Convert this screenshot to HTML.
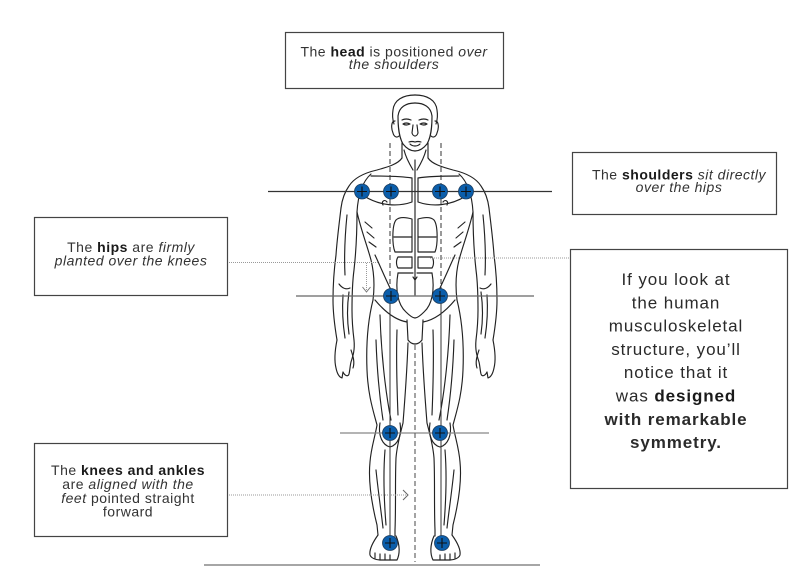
<!DOCTYPE html>
<html>
<head>
<meta charset="utf-8">
<style>
  html,body{margin:0;padding:0;background:#fff;}
  body{width:800px;height:575px;overflow:hidden;}
  svg{display:block;}
  .t{font-family:"Liberation Sans",Arial,sans-serif;font-size:14px;fill:#333;letter-spacing:0.5px;}
  .b{font-weight:bold;fill:#1a1a1a;}
  .i{font-style:italic;}
  .big{font-family:"Liberation Sans",Arial,sans-serif;font-size:17px;fill:#2a2a2a;letter-spacing:0.9px;}
  .fig path{fill:none;stroke:#222;stroke-width:1.15;stroke-linecap:round;stroke-linejoin:round;}
</style>
</head>
<body>
<svg width="800" height="575" viewBox="0 0 800 575" xmlns="http://www.w3.org/2000/svg">
  <rect width="800" height="575" fill="#fff"/>

  <!-- figure left half -->
  <g class="fig">
    <path d="M415,95 C403,95 394,100 393,110 C392,116 393,121 394,124"/>
    <path d="M415,103 C406,103 399,107 398,116"/>
    <path d="M398,116 C398,128 399,137 403,144 C407,149 411,151 415,151"/>
    <path d="M395,121 C391,121 391,128 393,133 C394,137 397,138 399,136"/>
    <path d="M402,120 Q406,118 411,120"/>
    <path d="M403,124 Q406,122 410,124 Q406,126 403,124"/>
    <path d="M413,125 L412,133 Q413,136 415,136"/>
    <path d="M409,142 Q412,141 415,142"/>
    <path d="M410,144 Q412,146 415,146"/>
    <path d="M402,143 L402,158"/>
    <path d="M404,150 C406,158 410,165 413,170"/>
    <path d="M402,158 C398,164 388,167 377,170 C364,173 354,178 349,186 C344,193 342,200 341,208"/>
    <path d="M341,208 C339,225 337,240 336,255 C334,270 333,285 333,300 C333,315 335,328 337,340"/>
    <path d="M357,212 C357,232 356,252 354,270 C352,285 352,298 352,310 C352,322 353,332 354,340"/>
    <path d="M347,215 C345,235 344,255 345,275"/>
    <path d="M343,295 C342,310 343,325 345,338"/>
    <path d="M349,292 C347,306 347,320 349,334"/>
    <path d="M339,284 C342,288 346,290 350,288"/>
    <path d="M337,340 C335,350 334,360 336,368 C337,373 339,377 342,378 L343,372 C345,376 348,377 349,374 C350,370 350,366 351,362 C353,356 355,350 354,340"/>
    <path d="M351,350 C353,356 355,362 353,368"/>
    <path d="M357,212 C361,230 367,245 371,260 C374,272 375,284 373,300"/>
    <path d="M371,174 C362,182 358,195 357,212"/>
    <path d="M371,176 C385,176 400,176 412,178 L412,202 C398,207 380,206 364,196"/>
    <path d="M383,205 C381,201 385,199 387,202"/>
    <path d="M365,222 L372,228"/>
    <path d="M367,232 L374,238"/>
    <path d="M369,242 L376,247"/>
    <path d="M396,220 C392,225 392,245 395,252 L412,252 L412,219 C405,217 399,217 396,220"/>
    <path d="M394,237 L412,237"/>
    <path d="M398,257 L412,257 L412,268 L398,268 C396,265 396,260 398,257"/>
    <path d="M398,273 L413,273"/>
    <path d="M398,273 C395,290 398,305 406,312 C410,316 413,318 415,318"/>
    <path d="M375,255 C382,270 388,285 396,300"/>
    <path d="M375,300 C385,312 395,320 407,322"/>
    <path d="M407,320 L408,340 Q411,344 415,344"/>
    <path d="M373,300 C368,320 366,345 367,370 C368,395 373,410 377,425 C375,437 371,448 370,462 C368,482 372,505 377,525 L378,535"/>
    <path d="M408,343 C407,370 405,398 403,423 C400,435 397,445 396,458 C395,480 396,505 395,530 L395,536"/>
    <path d="M380,315 C381,350 385,390 391,420"/>
    <path d="M397,330 C396,360 397,390 398,415"/>
    <path d="M376,340 C377,370 380,400 383,420"/>
    <path d="M380,423 C378,435 382,445 390,447 C398,445 402,435 400,423"/>
    <path d="M385,450 C383,475 384,500 386,525"/>
    <path d="M376,470 C378,490 381,510 383,528"/>
    <path d="M378,535 C373,542 369,549 370,555 C371,558 376,560 380,560 L397,560 C400,554 400,545 396,536"/>
    <path d="M375,558 L375,553"/>
    <path d="M380,560 L380,554"/>
    <path d="M385,560 L385,554"/>
    <path d="M390,560 L390,555"/>
  </g>
  <!-- figure right half (mirror) -->
  <g class="fig" transform="translate(830,0) scale(-1,1)">
    <path d="M415,95 C403,95 394,100 393,110 C392,116 393,121 394,124"/>
    <path d="M415,103 C406,103 399,107 398,116"/>
    <path d="M398,116 C398,128 399,137 403,144 C407,149 411,151 415,151"/>
    <path d="M395,121 C391,121 391,128 393,133 C394,137 397,138 399,136"/>
    <path d="M402,120 Q406,118 411,120"/>
    <path d="M403,124 Q406,122 410,124 Q406,126 403,124"/>
    <path d="M413,125 L412,133 Q413,136 415,136"/>
    <path d="M409,142 Q412,141 415,142"/>
    <path d="M410,144 Q412,146 415,146"/>
    <path d="M402,143 L402,158"/>
    <path d="M404,150 C406,158 410,165 413,170"/>
    <path d="M402,158 C398,164 388,167 377,170 C364,173 354,178 349,186 C344,193 342,200 341,208"/>
    <path d="M341,208 C339,225 337,240 336,255 C334,270 333,285 333,300 C333,315 335,328 337,340"/>
    <path d="M357,212 C357,232 356,252 354,270 C352,285 352,298 352,310 C352,322 353,332 354,340"/>
    <path d="M347,215 C345,235 344,255 345,275"/>
    <path d="M343,295 C342,310 343,325 345,338"/>
    <path d="M349,292 C347,306 347,320 349,334"/>
    <path d="M339,284 C342,288 346,290 350,288"/>
    <path d="M337,340 C335,350 334,360 336,368 C337,373 339,377 342,378 L343,372 C345,376 348,377 349,374 C350,370 350,366 351,362 C353,356 355,350 354,340"/>
    <path d="M351,350 C353,356 355,362 353,368"/>
    <path d="M357,212 C361,230 367,245 371,260 C374,272 375,284 373,300"/>
    <path d="M371,174 C362,182 358,195 357,212"/>
    <path d="M371,176 C385,176 400,176 412,178 L412,202 C398,207 380,206 364,196"/>
    <path d="M383,205 C381,201 385,199 387,202"/>
    <path d="M365,222 L372,228"/>
    <path d="M367,232 L374,238"/>
    <path d="M369,242 L376,247"/>
    <path d="M396,220 C392,225 392,245 395,252 L412,252 L412,219 C405,217 399,217 396,220"/>
    <path d="M394,237 L412,237"/>
    <path d="M398,257 L412,257 L412,268 L398,268 C396,265 396,260 398,257"/>
    <path d="M398,273 L413,273"/>
    <path d="M398,273 C395,290 398,305 406,312 C410,316 413,318 415,318"/>
    <path d="M375,255 C382,270 388,285 396,300"/>
    <path d="M375,300 C385,312 395,320 407,322"/>
    <path d="M407,320 L408,340 Q411,344 415,344"/>
    <path d="M373,300 C368,320 366,345 367,370 C368,395 373,410 377,425 C375,437 371,448 370,462 C368,482 372,505 377,525 L378,535"/>
    <path d="M408,343 C407,370 405,398 403,423 C400,435 397,445 396,458 C395,480 396,505 395,530 L395,536"/>
    <path d="M380,315 C381,350 385,390 391,420"/>
    <path d="M397,330 C396,360 397,390 398,415"/>
    <path d="M376,340 C377,370 380,400 383,420"/>
    <path d="M380,423 C378,435 382,445 390,447 C398,445 402,435 400,423"/>
    <path d="M385,450 C383,475 384,500 386,525"/>
    <path d="M376,470 C378,490 381,510 383,528"/>
    <path d="M378,535 C373,542 369,549 370,555 C371,558 376,560 380,560 L397,560 C400,554 400,545 396,536"/>
    <path d="M375,558 L375,553"/>
    <path d="M380,560 L380,554"/>
    <path d="M385,560 L385,554"/>
    <path d="M390,560 L390,555"/>
  </g>
  <!-- center line (linea alba) -->
  <g class="fig">
    <path d="M415,160 L415,295"/>
    <path d="M413,277 L415,280 L417,277"/>
  </g>

  <!-- alignment lines -->
  <path d="M268,191.5 H552" stroke="#333" stroke-width="1.2" fill="none"/>
  <path d="M296,296 H534" stroke="#666" stroke-width="1.2" fill="none"/>
  <path d="M340,433 H489" stroke="#888" stroke-width="1.2" fill="none"/>
  <path d="M204,565 H540" stroke="#888" stroke-width="1.6" fill="none"/>

  <path d="M390,143 V296" stroke="#333" stroke-width="1" stroke-dasharray="5 3" fill="none"/>
  <path d="M441,143 V296" stroke="#333" stroke-width="1" stroke-dasharray="5 3" fill="none"/>
  <path d="M390,296 V543" stroke="#333" stroke-width="1" fill="none"/>
  <path d="M441,296 V543" stroke="#333" stroke-width="1" fill="none"/>
  <path d="M415,345 V562" stroke="#666" stroke-width="1.2" stroke-dasharray="5 3" fill="none"/>

  <!-- dotted connectors -->
  <path d="M227,262.5 H378" stroke="#999" stroke-width="1" stroke-dasharray="1 1" fill="none"/>
  <path d="M366.5,263 V291" stroke="#999" stroke-width="1" stroke-dasharray="1 1" fill="none"/>
  <path d="M362.5,287 L366.5,292 L370.5,287" stroke="#777" stroke-width="1" fill="none"/>
  <path d="M430,258 H570" stroke="#999" stroke-width="1" stroke-dasharray="1 1" fill="none"/>
  <path d="M227,495 H406" stroke="#999" stroke-width="1" stroke-dasharray="1 1" fill="none"/>
  <path d="M403,490 L408,495 L403,500" stroke="#666" stroke-width="1" fill="none"/>

  <!-- joint dots -->
  <g stroke="#1d3d5e" stroke-width="0.8" fill="#0b5eab">
    <circle cx="362" cy="191.5" r="7.5"/>
    <circle cx="391" cy="191.5" r="7.5"/>
    <circle cx="440" cy="191.5" r="7.5"/>
    <circle cx="466" cy="191.5" r="7.5"/>
    <circle cx="391" cy="296" r="7.5"/>
    <circle cx="440" cy="296" r="7.5"/>
    <circle cx="390" cy="433" r="7.5"/>
    <circle cx="440" cy="433" r="7.5"/>
    <circle cx="390" cy="543" r="7.5"/>
    <circle cx="442" cy="543" r="7.5"/>
  </g>
  <g stroke="#111" stroke-width="1.1" fill="none">
    <path d="M357,191.5 H367 M362,186.5 V196.5"/>
    <path d="M386,191.5 H396 M391,186.5 V196.5"/>
    <path d="M435,191.5 H445 M440,186.5 V196.5"/>
    <path d="M461,191.5 H471 M466,186.5 V196.5"/>
    <path d="M386,296 H396 M391,291 V301"/>
    <path d="M435,296 H445 M440,291 V301"/>
    <path d="M385,433 H395 M390,428 V438"/>
    <path d="M435,433 H445 M440,428 V438"/>
    <path d="M385,543 H395 M390,538 V548"/>
    <path d="M437,543 H447 M442,538 V548"/>
  </g>

  <!-- boxes -->
  <g fill="#fff" stroke="#444" stroke-width="1.2">
    <rect x="285.5" y="32.5" width="218" height="56"/>
    <rect x="572.5" y="152.5" width="204" height="62"/>
    <rect x="34.5" y="217.5" width="193" height="78"/>
    <rect x="570.5" y="249.5" width="217" height="239"/>
    <rect x="34.5" y="443.5" width="193" height="93"/>
  </g>

  <!-- box texts -->
  <text class="t" x="394" y="56.5" text-anchor="middle">The <tspan class="b">head</tspan> is positioned <tspan class="i">over</tspan></text>
  <text class="t i" x="394" y="69" text-anchor="middle">the shoulders</text>

  <text class="t" x="679" y="179.5" text-anchor="middle">The <tspan class="b">shoulders</tspan> <tspan class="i">sit directly</tspan></text>
  <text class="t i" x="679" y="192" text-anchor="middle">over the hips</text>

  <text class="t" x="131" y="252" text-anchor="middle">The <tspan class="b">hips</tspan> are <tspan class="i">firmly</tspan></text>
  <text class="t i" x="131" y="265.5" text-anchor="middle">planted over the knees</text>

  <text class="t" x="128" y="475" text-anchor="middle">The <tspan class="b">knees and ankles</tspan></text>
  <text class="t" x="128" y="489" text-anchor="middle">are <tspan class="i">aligned with the</tspan></text>
  <text class="t" x="128" y="503" text-anchor="middle"><tspan class="i">feet</tspan> pointed straight</text>
  <text class="t" x="128" y="516.5" text-anchor="middle">forward</text>

  <text class="big" x="676" y="285" text-anchor="middle">If you look at</text>
  <text class="big" x="676" y="308.3" text-anchor="middle">the human</text>
  <text class="big" x="676" y="331.6" text-anchor="middle">musculoskeletal</text>
  <text class="big" x="676" y="354.9" text-anchor="middle">structure, you’ll</text>
  <text class="big" x="676" y="378.2" text-anchor="middle">notice that it</text>
  <text class="big" x="676" y="401.5" text-anchor="middle">was <tspan class="b">designed</tspan></text>
  <text class="big b" x="676" y="424.8" text-anchor="middle">with remarkable</text>
  <text class="big b" x="676" y="448.1" text-anchor="middle">symmetry.</text>
</svg>
</body>
</html>
